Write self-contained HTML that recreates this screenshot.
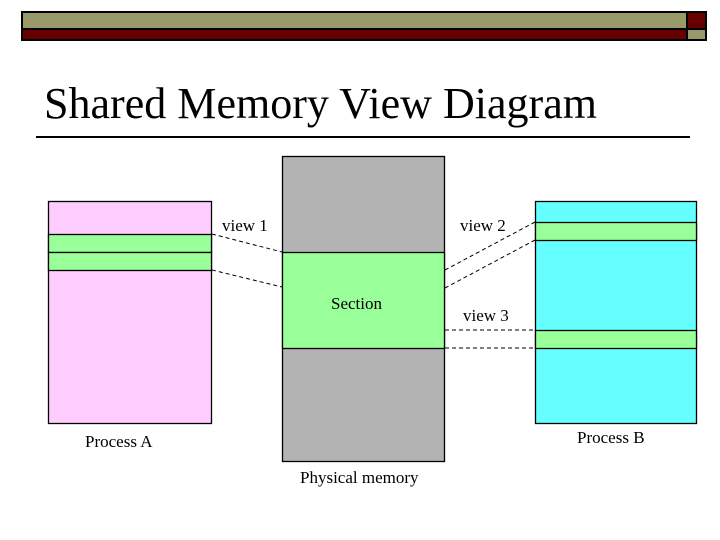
<!DOCTYPE html>
<html><head><style>
body{margin:0;background:#fff;}
svg{display:block}
text{font-family:"Liberation Serif",serif;fill:#000}
</style></head><body>
<svg width="720" height="540" xmlns="http://www.w3.org/2000/svg">
<rect x="22" y="12" width="665" height="17" fill="#99996a" stroke="#000" stroke-width="2"/>
<rect x="22" y="29" width="665" height="11" fill="#660000" stroke="#000" stroke-width="2"/>
<rect x="687" y="12" width="19" height="17" fill="#660000" stroke="#000" stroke-width="2"/>
<rect x="687" y="29" width="19" height="11" fill="#99996a" stroke="#000" stroke-width="2"/>
<text x="44" y="118" font-size="44" textLength="553">Shared Memory View Diagram</text>
<line x1="36" y1="137" x2="690" y2="137" stroke="#000" stroke-width="2"/>
<g stroke="#000" stroke-width="1.3">
<rect x="48.5" y="201.5" width="163" height="222" fill="#ffccff"/>
<rect x="48.5" y="234.5" width="163" height="18" fill="#99ff99"/>
<rect x="48.5" y="252.5" width="163" height="18" fill="#99ff99"/>
<rect x="282.5" y="156.5" width="162" height="305" fill="#b3b3b3"/>
<rect x="282.5" y="252.5" width="162" height="96" fill="#99ff99"/>
<rect x="535.5" y="201.5" width="161" height="222" fill="#66ffff"/>
<rect x="535.5" y="222.5" width="161" height="18" fill="#99ff99"/>
<rect x="535.5" y="330.5" width="161" height="18" fill="#99ff99"/>
</g>
<g stroke="#000" stroke-width="1" stroke-dasharray="4,3" fill="none">
<line x1="212" y1="234" x2="282" y2="252"/>
<line x1="212" y1="270" x2="282" y2="287"/>
<line x1="445" y1="270" x2="535" y2="222"/>
<line x1="445" y1="288" x2="535" y2="240"/>
<line x1="445" y1="330" x2="535" y2="330"/>
<line x1="445" y1="348" x2="535" y2="348"/>
</g>
<text x="222" y="231" font-size="17">view 1</text>
<text x="460" y="231" font-size="17">view 2</text>
<text x="331" y="309" font-size="17">Section</text>
<text x="463" y="321" font-size="17">view 3</text>
<text x="85" y="447" font-size="17">Process A</text>
<text x="577" y="443" font-size="17">Process B</text>
<text x="300" y="483" font-size="17">Physical memory</text>
</svg>
</body></html>
